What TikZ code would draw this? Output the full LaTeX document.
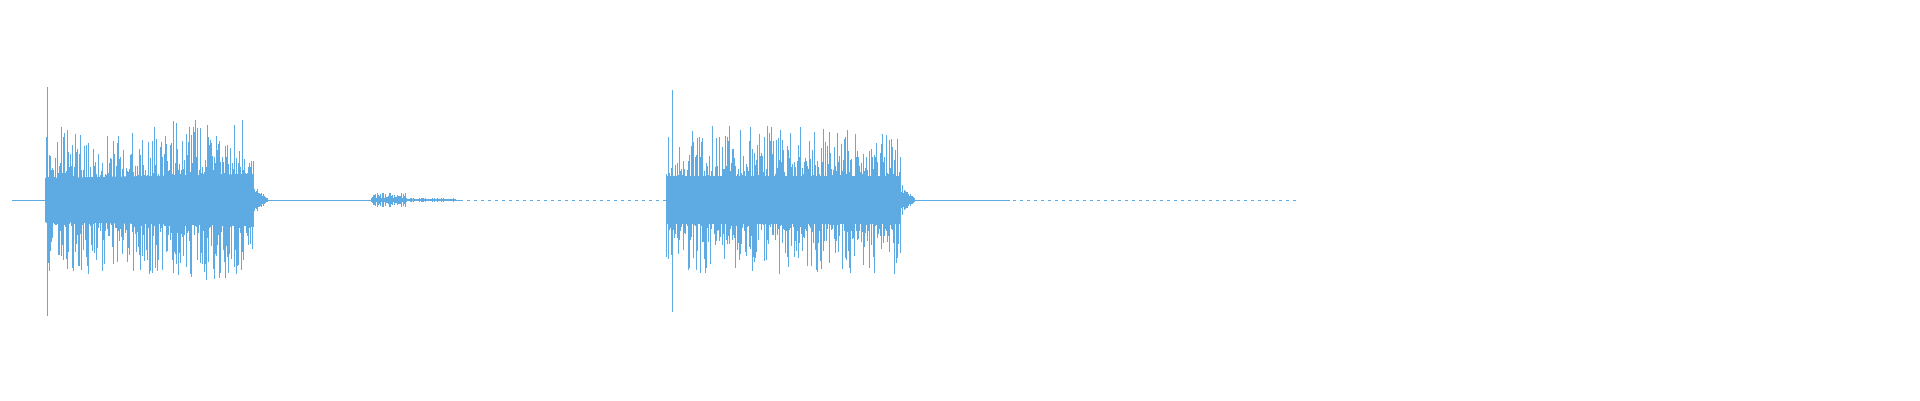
\documentclass[tikz,border=0pt]{standalone}
\definecolor{wave}{RGB}{94,170,226}
\begin{document}
\begin{tikzpicture}[x=1pt,y=1pt,wv/.style={draw=wave,line width=0.6pt}]
\useasboundingbox (0,0) rectangle (1920,400);
\pgfmathsetseed{7}
% baseline
\draw[wave,line width=0.4pt,dash pattern=on 3pt off 4pt] (12,200) -- (1298,200);
\draw[wave,line width=0.5pt] (12,200) -- (460,200);
\draw[wave,line width=0.5pt] (900,200) -- (1010,200);
% burst 1
\fill[wave] (45,178) -- (253,174) -- (253,226) -- (45,222) -- cycle;
\foreach \i in {0,...,207}{
  \pgfmathsetmacro\x{46+\i}
  \pgfmathsetmacro\e{(\i<120)?1:1.12}
  \pgfmathsetmacro\h{\e*(22+pow(rnd,1.8)*52)}
  \pgfmathsetmacro\g{\e*(22+pow(rnd,1.8)*52)}
  \draw[wv] (\x,200+\h) -- (\x,200-\g);
}
\draw[wave,line width=0.9pt] (47,84) -- (47,313);
\foreach \i in {0,...,14}{
  \pgfmathsetmacro\x{253+\i}
  \pgfmathsetmacro\h{(15-\i)*(0.5+0.6*rnd)+1}
  \draw[wv,line width=0.4pt] (\x,200+\h) -- (\x,200-\h);
}
% small burst
\foreach \i in {0,...,34}{
  \pgfmathsetmacro\x{371+\i}
  \pgfmathsetmacro\h{1.5+rnd*6}
  \draw[wv,line width=0.4pt] (\x,200+\h) -- (\x,200-\h);
}
\foreach \i in {0,...,50}{
  \pgfmathsetmacro\x{405+\i}
  \pgfmathsetmacro\h{0.5+rnd*1.5}
  \draw[wv,line width=0.3pt] (\x,200+\h) -- (\x,200-\h);
}
% burst 2
\fill[wave] (666,176) -- (900,176) -- (900,224) -- (666,224) -- cycle;
\foreach \i in {0,...,234}{
  \pgfmathsetmacro\x{666+\i}
  \pgfmathsetmacro\h{22+pow(rnd,1.8)*52}
  \pgfmathsetmacro\g{22+pow(rnd,1.8)*52}
  \draw[wv] (\x,200+\h) -- (\x,200-\g);
}
\draw[wave,line width=0.9pt] (672,88) -- (672,310);
\foreach \i in {0,...,14}{
  \pgfmathsetmacro\x{900+\i}
  \pgfmathsetmacro\h{(15-\i)*(0.5+0.6*rnd)+1}
  \draw[wv,line width=0.4pt] (\x,200+\h) -- (\x,200-\h);
}
\end{tikzpicture}
\end{document}
